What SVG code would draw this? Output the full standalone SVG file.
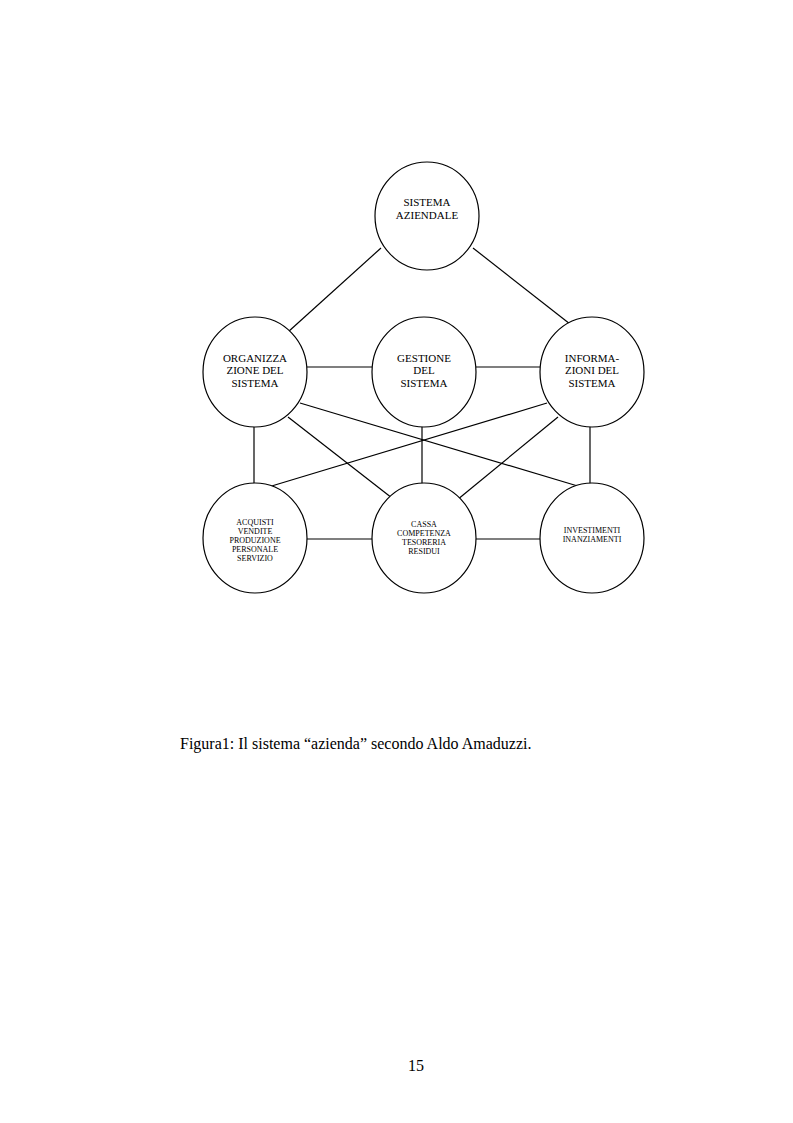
<svg xmlns="http://www.w3.org/2000/svg" width="793" height="1123" viewBox="0 0 793 1123">
<style>
.n{fill:#fff;stroke:#000;stroke-width:1.2}
.c line{stroke:#000;stroke-width:1.2}
text{font-family:"Liberation Serif",serif;fill:#000;text-anchor:middle}
.m{font-size:11px}
.s{font-size:8px}
</style>
<rect width="793" height="1123" fill="#fff"/>
<g class="c">
<line x1="381" y1="248" x2="288" y2="332"/>
<line x1="473" y1="248" x2="570" y2="324"/>
<line x1="307" y1="367" x2="372" y2="367"/>
<line x1="476" y1="367" x2="540" y2="367"/>
<line x1="254" y1="427" x2="254" y2="487"/>
<line x1="422" y1="427" x2="422" y2="484"/>
<line x1="590" y1="427" x2="590" y2="487"/>
<line x1="300" y1="403" x2="581" y2="487"/>
<line x1="288" y1="417" x2="392" y2="498"/>
<line x1="547" y1="403" x2="265" y2="488"/>
<line x1="558" y1="417" x2="457" y2="500"/>
<line x1="307" y1="539" x2="372" y2="539"/>
<line x1="476" y1="539" x2="540" y2="539"/>
</g>
<g id="sistema"><ellipse class="n" cx="427" cy="216" rx="52" ry="54"/><text class="m" x="427" y="206">SISTEMA</text><text class="m" x="427" y="219">AZIENDALE</text></g>
<g id="organizzazione"><ellipse class="n" cx="255" cy="372" rx="52" ry="55"/><text class="m" x="255" y="362">ORGANIZZA</text><text class="m" x="255" y="374">ZIONE DEL</text><text class="m" x="255" y="387">SISTEMA</text></g>
<g id="gestione"><ellipse class="n" cx="424" cy="372" rx="52" ry="55"/><text class="m" x="424" y="362">GESTIONE</text><text class="m" x="424" y="374">DEL</text><text class="m" x="424" y="387">SISTEMA</text></g>
<g id="informazioni"><ellipse class="n" cx="592" cy="372" rx="52" ry="55"/><text class="m" x="592" y="362">INFORMA-</text><text class="m" x="592" y="374">ZIONI DEL</text><text class="m" x="592" y="387">SISTEMA</text></g>
<g id="acquisti"><ellipse class="n" cx="255" cy="538" rx="52" ry="55"/><text class="s" x="255" y="525">ACQUISTI</text><text class="s" x="255" y="534">VENDITE</text><text class="s" x="255" y="543">PRODUZIONE</text><text class="s" x="255" y="552">PERSONALE</text><text class="s" x="255" y="561">SERVIZIO</text></g>
<g id="cassa"><ellipse class="n" cx="424" cy="538" rx="52" ry="55"/><text class="s" x="424" y="527">CASSA</text><text class="s" x="424" y="536">COMPETENZA</text><text class="s" x="424" y="545">TESORERIA</text><text class="s" x="424" y="554">RESIDUI</text></g>
<g id="investimenti"><ellipse class="n" cx="592" cy="538" rx="52" ry="55"/><text class="s" x="592" y="533">INVESTIMENTI</text><text class="s" x="592" y="542">INANZIAMENTI</text></g>
<text x="180" y="749" style="text-anchor:start;font-size:16px">Figura1: Il sistema “azienda” secondo Aldo Amaduzzi.</text>
<text x="416" y="1071" style="font-size:16px">15</text>
</svg>
